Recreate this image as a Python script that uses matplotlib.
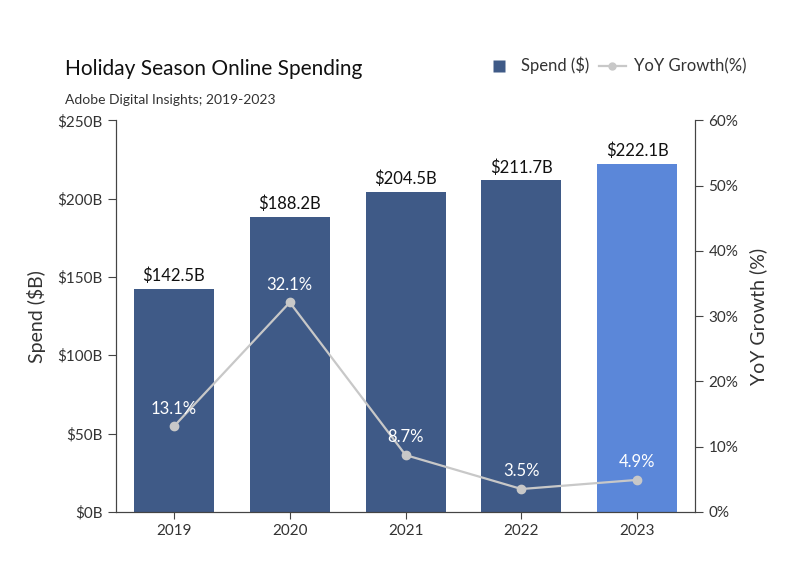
import matplotlib
matplotlib.use("Agg")
import matplotlib.pyplot as plt
from matplotlib.lines import Line2D

plt.rcParams['font.family'] = ['Lato', 'DejaVu Sans']

years = ['2019', '2020', '2021', '2022', '2023']
spend = [142.5, 188.2, 204.5, 211.7, 222.1]
growth = [13.1, 32.1, 8.7, 3.5, 4.9]
spend_labels = ['$142.5B', '$188.2B', '$204.5B', '$211.7B', '$222.1B']
growth_labels = ['13.1%', '32.1%', '8.7%', '3.5%', '4.9%']
bar_colors = ['#3F5A87', '#3F5A87', '#3F5A87', '#3F5A87', '#5B87D9']
left_ticks = [0, 50, 100, 150, 200, 250]
left_tick_labels = ['$0B', '$50B', '$100B', '$150B', '$200B', '$250B']
right_ticks = [0, 10, 20, 30, 40, 50, 60]
right_tick_labels = ['0%', '10%', '20%', '30%', '40%', '50%', '60%']

fig = plt.figure(figsize=(8, 5.81), dpi=100)
ax = fig.add_axes([0.145, 0.119, 0.724, 0.674])
x = list(range(len(years)))
ax.bar(x, spend, width=0.69, color=bar_colors, zorder=2)
for xi, v, lab in zip(x, spend, spend_labels):
    ax.text(xi, v + 3, lab, ha='center', va='bottom', fontsize=12, color='#111111')
ax.set_xlim(-0.5, 4.5)
ax.set_ylim(0, 250)
ax.set_yticks(left_ticks)
ax.set_yticklabels(left_tick_labels)
ax.set_xticks(x)
ax.set_xticklabels(years)
ax.set_ylabel('Spend ($B)', fontsize=14, color='#333333', labelpad=8)
ax.spines['top'].set_visible(False)
for s in ['left', 'bottom', 'right']:
    ax.spines[s].set_color('#444444')
ax.tick_params(axis='both', labelsize=11, colors='#444444', labelcolor='#333333', length=6)
ax.tick_params(axis='x', length=5)

ax2 = ax.twinx()
ax2.plot(x, growth, color='#C8C8C8', lw=1.6, marker='o', ms=6, zorder=3)
for xi, g, lab in zip(x, growth, growth_labels):
    ax2.text(xi, g + 1.5, lab, ha='center', va='bottom', fontsize=12, color='white')
ax2.set_ylim(0, 60)
ax2.set_yticks(right_ticks)
ax2.set_yticklabels(right_tick_labels)
ax2.set_ylabel('YoY Growth (%)', fontsize=14, color='#333333', labelpad=8)
ax2.spines['top'].set_visible(False)
for s in ['left', 'bottom', 'right']:
    ax2.spines[s].set_color('#444444')
ax2.tick_params(axis='y', labelsize=11, colors='#444444', labelcolor='#333333', length=6)

fig.text(0.081, 0.882, 'Holiday Season Online Spending', fontsize=15, color='#111111', va='center')
fig.text(0.081, 0.828, 'Adobe Digital Insights; 2019-2023', fontsize=10, color='#333333', va='center')

handles = [Line2D([0], [0], color='none', marker='s', ms=8, markerfacecolor='#3F5A87',
                  markeredgecolor='none'),
           Line2D([0], [0], color='#C8C8C8', lw=1.6, marker='o', ms=5)]
fig.legend(handles, ['Spend ($)', 'YoY Growth(%)'], loc='center right',
           bbox_to_anchor=(0.952, 0.887), ncol=2, frameon=False, fontsize=12,
           handlelength=1.6, columnspacing=0.6, handletextpad=0.5,
           labelcolor='#333333')

fig.savefig('out.png', dpi=100, facecolor='white')
